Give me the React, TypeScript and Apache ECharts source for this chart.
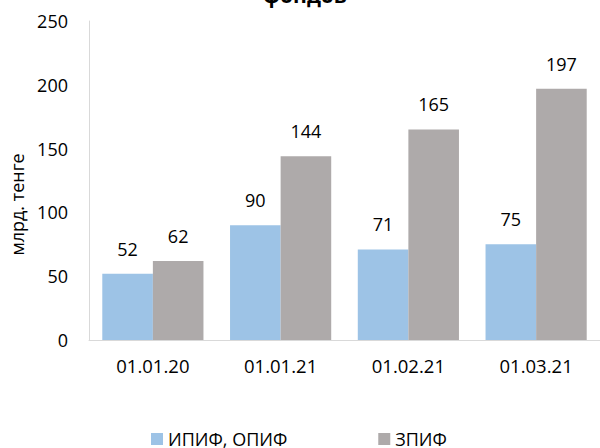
import React, { useEffect, useRef } from "react";
import * as echarts from "echarts";

const categories = ["01.01.20", "01.01.21", "01.02.21", "01.03.21"];
const seriesNames = ["ИПИФ, ОПИФ", "ЗПИФ"];
const ipifOpif = [52, 90, 71, 75];
const zpif = [62, 144, 165, 197];
const yAxisName = "млрд. тенге";
const titleText = "фондов";

const FONT = "'Open Sans', sans-serif";

export default function App() {
  const ref = useRef<HTMLDivElement>(null);
  useEffect(() => {
    if (!ref.current) return;
    const chart = echarts.init(ref.current, null, { renderer: "svg" });
    const labelStyle = {
      show: true,
      position: "top" as const,
      distance: 16,
      color: "#000",
      fontSize: 18,
      fontFamily: FONT,
    };
    chart.setOption({
      animation: false,
      backgroundColor: "#fff",
      textStyle: { fontFamily: FONT },
      graphic: [
        {
          type: "text",
          x: 305,
          y: -5,
          style: {
            text: titleText,
            fontSize: 21,
            fontWeight: "bold",
            fontFamily: FONT,
            fill: "#000",
            textAlign: "center",
            textVerticalAlign: "middle",
          },
        },
      ],
      legend: {
        left: 146,
        top: 425,
        itemWidth: 12,
        itemHeight: 12,
        itemGap: 91,
        icon: "rect",
        textStyle: { fontSize: 18, color: "#000", fontFamily: FONT },
        data: seriesNames,
      },
      grid: { left: 89, width: 518, top: 21, bottom: 108 },
      xAxis: {
        type: "category",
        data: categories,
        axisLine: { lineStyle: { color: "#d9d9d9" } },
        axisTick: { show: false },
        axisLabel: { color: "#000", fontSize: 18.5, margin: 16, fontFamily: FONT },
      },
      yAxis: {
        type: "value",
        min: 0,
        max: 250,
        interval: 50,
        name: yAxisName,
        nameLocation: "middle",
        nameGap: 62,
        nameTextStyle: {
          color: "#000",
          fontSize: 18,
          fontFamily: FONT,
          padding: [0, 48, 0, 0],
        },
        axisLine: { show: true, lineStyle: { color: "#d9d9d9" } },
        axisTick: { show: false },
        splitLine: { show: false },
        axisLabel: { color: "#000", fontSize: 18, margin: 21, fontFamily: FONT },
      },
      series: [
        {
          name: seriesNames[0],
          type: "bar",
          data: ipifOpif,
          itemStyle: { color: "#9dc3e6" },
          barGap: "0%",
          barCategoryGap: "20.8%",
          label: labelStyle,
        },
        {
          name: seriesNames[1],
          type: "bar",
          data: zpif,
          itemStyle: { color: "#aeaaaa" },
          label: labelStyle,
        },
      ],
    });
    return () => chart.dispose();
  }, []);
  return (
    <div
      ref={ref}
      style={{ position: "fixed", left: 0, top: 0, width: 600, height: 448 }}
    />
  );
}
